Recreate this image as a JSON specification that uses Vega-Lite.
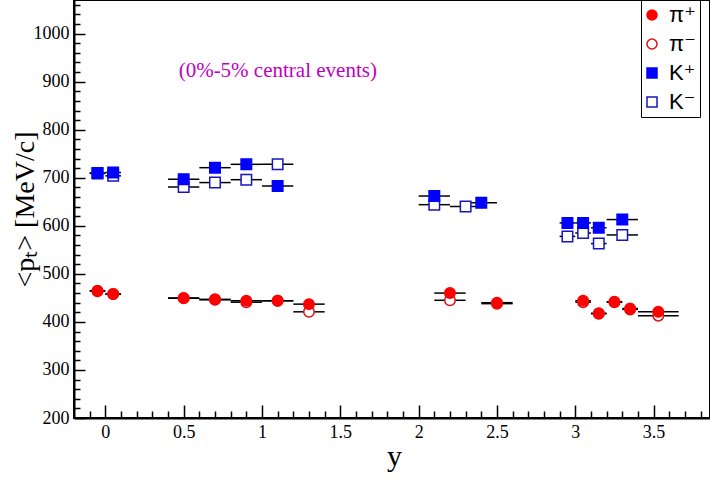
{
  "$schema": "https://vega.github.io/schema/vega-lite/v6.json",
  "width": 636,
  "height": 418,
  "autosize": {"type": "none"},
  "padding": {"left": 74, "top": 0, "right": 0, "bottom": 61},
  "background": "white",
  "datasets": {
    "pts": [
      {"s": "π⁻", "x": -0.05, "xlo": -0.1, "xhi": 0.0, "v": 465},
      {"s": "π⁻", "x": 0.05, "xlo": 0.0, "xhi": 0.1, "v": 458},
      {"s": "π⁻", "x": 0.5, "xlo": 0.4, "xhi": 0.6, "v": 449},
      {"s": "π⁻", "x": 0.7, "xlo": 0.6, "xhi": 0.8, "v": 446},
      {"s": "π⁻", "x": 0.9, "xlo": 0.8, "xhi": 1.0, "v": 441},
      {"s": "π⁻", "x": 1.1, "xlo": 1.0, "xhi": 1.2, "v": 444},
      {"s": "π⁻", "x": 1.3, "xlo": 1.2, "xhi": 1.4, "v": 421},
      {"s": "π⁻", "x": 2.2, "xlo": 2.1, "xhi": 2.3, "v": 445},
      {"s": "π⁻", "x": 2.5, "xlo": 2.4, "xhi": 2.6, "v": 438},
      {"s": "π⁻", "x": 3.05, "xlo": 3.0, "xhi": 3.1, "v": 441},
      {"s": "π⁻", "x": 3.15, "xlo": 3.1, "xhi": 3.2, "v": 417},
      {"s": "π⁻", "x": 3.25, "xlo": 3.2, "xhi": 3.3, "v": 441},
      {"s": "π⁻", "x": 3.35, "xlo": 3.3, "xhi": 3.4, "v": 428},
      {"s": "π⁻", "x": 3.53, "xlo": 3.4, "xhi": 3.66, "v": 413},
      {"s": "K⁻", "x": -0.05, "xlo": -0.1, "xhi": 0.0, "v": 709},
      {"s": "K⁻", "x": 0.05, "xlo": 0.0, "xhi": 0.1, "v": 704},
      {"s": "K⁻", "x": 0.5, "xlo": 0.4, "xhi": 0.6, "v": 681},
      {"s": "K⁻", "x": 0.7, "xlo": 0.6, "xhi": 0.8, "v": 690},
      {"s": "K⁻", "x": 0.9, "xlo": 0.8, "xhi": 1.0, "v": 696},
      {"s": "K⁻", "x": 1.1, "xlo": 1.0, "xhi": 1.2, "v": 728},
      {"s": "K⁻", "x": 2.1, "xlo": 2.0, "xhi": 2.2, "v": 644},
      {"s": "K⁻", "x": 2.3, "xlo": 2.2, "xhi": 2.4, "v": 640},
      {"s": "K⁻", "x": 2.95, "xlo": 2.9, "xhi": 3.0, "v": 578},
      {"s": "K⁻", "x": 3.05, "xlo": 3.0, "xhi": 3.1, "v": 585},
      {"s": "K⁻", "x": 3.15, "xlo": 3.1, "xhi": 3.2, "v": 563},
      {"s": "K⁻", "x": 3.3, "xlo": 3.2, "xhi": 3.4, "v": 581},
      {"s": "π⁺", "x": -0.05, "xlo": -0.1, "xhi": 0.0, "v": 464},
      {"s": "π⁺", "x": 0.05, "xlo": 0.0, "xhi": 0.1, "v": 458},
      {"s": "π⁺", "x": 0.5, "xlo": 0.4, "xhi": 0.6, "v": 450},
      {"s": "π⁺", "x": 0.7, "xlo": 0.6, "xhi": 0.8, "v": 447},
      {"s": "π⁺", "x": 0.9, "xlo": 0.8, "xhi": 1.0, "v": 444},
      {"s": "π⁺", "x": 1.1, "xlo": 1.0, "xhi": 1.2, "v": 444},
      {"s": "π⁺", "x": 1.3, "xlo": 1.2, "xhi": 1.4, "v": 437},
      {"s": "π⁺", "x": 2.2, "xlo": 2.1, "xhi": 2.3, "v": 460},
      {"s": "π⁺", "x": 2.5, "xlo": 2.4, "xhi": 2.6, "v": 440},
      {"s": "π⁺", "x": 3.05, "xlo": 3.0, "xhi": 3.1, "v": 444},
      {"s": "π⁺", "x": 3.15, "xlo": 3.1, "xhi": 3.2, "v": 418},
      {"s": "π⁺", "x": 3.25, "xlo": 3.2, "xhi": 3.3, "v": 442},
      {"s": "π⁺", "x": 3.35, "xlo": 3.3, "xhi": 3.4, "v": 426},
      {"s": "π⁺", "x": 3.53, "xlo": 3.4, "xhi": 3.66, "v": 421},
      {"s": "K⁺", "x": -0.05, "xlo": -0.1, "xhi": 0.0, "v": 710},
      {"s": "K⁺", "x": 0.05, "xlo": 0.0, "xhi": 0.1, "v": 711},
      {"s": "K⁺", "x": 0.5, "xlo": 0.4, "xhi": 0.6, "v": 697},
      {"s": "K⁺", "x": 0.7, "xlo": 0.6, "xhi": 0.8, "v": 721},
      {"s": "K⁺", "x": 0.9, "xlo": 0.8, "xhi": 1.0, "v": 728},
      {"s": "K⁺", "x": 1.1, "xlo": 1.0, "xhi": 1.2, "v": 683},
      {"s": "K⁺", "x": 2.1, "xlo": 2.0, "xhi": 2.2, "v": 662},
      {"s": "K⁺", "x": 2.4, "xlo": 2.3, "xhi": 2.5, "v": 648},
      {"s": "K⁺", "x": 2.95, "xlo": 2.9, "xhi": 3.0, "v": 606},
      {"s": "K⁺", "x": 3.05, "xlo": 3.0, "xhi": 3.1, "v": 606},
      {"s": "K⁺", "x": 3.15, "xlo": 3.1, "xhi": 3.2, "v": 596},
      {"s": "K⁺", "x": 3.3, "xlo": 3.2, "xhi": 3.4, "v": 613}
    ],
    "note": [{"x": 0.468, "v": 922, "t": "(0%-5% central events)"}]
  },
  "layer": [
    {
      "data": {"name": "pts"},
      "mark": {"type": "rule", "color": "black", "strokeWidth": 1.5},
      "encoding": {
        "x": {
          "field": "xlo", "type": "quantitative",
          "scale": {"domain": [-0.2, 3.86], "nice": false, "zero": false},
          "axis": {
            "orient": "bottom", "values": [0, 0.5, 1, 1.5, 2, 2.5, 3, 3.5], "format": "~g",
            "tickSize": -13, "tickWidth": 1.5, "tickColor": "black",
            "domainColor": "black", "domainWidth": 2, "grid": false,
            "labelFont": "Times New Roman, Liberation Serif, serif", "labelFontSize": 18, "labelColor": "black", "labelPadding": 18,
            "title": "y", "titleFont": "Times New Roman, Liberation Serif, serif", "titleFontSize": 30, "titleFontWeight": "normal",
            "titleColor": "black", "titleBaseline": "alphabetic", "titleX": 320, "titleY": 47, "titleAlign": "center"
          }
        },
        "x2": {"field": "xhi"},
        "y": {
          "field": "v", "type": "quantitative",
          "scale": {"domain": [200, 1070], "nice": false, "zero": false},
          "axis": {
            "orient": "left", "values": [200, 300, 400, 500, 600, 700, 800, 900, 1000], "format": "d",
            "tickSize": -11, "tickWidth": 1.5, "tickColor": "black",
            "domainColor": "black", "domainWidth": 2, "grid": false,
            "labelFont": "Times New Roman, Liberation Serif, serif", "labelFontSize": 18, "labelColor": "black", "labelPadding": 16,
            "title": "<pₜ> [MeV/c]", "titleFont": "Times New Roman, Liberation Serif, serif", "titleFontSize": 28, "titleFontWeight": "normal",
            "titleColor": "black", "titleBaseline": "alphabetic", "titleAngle": -90, "titleX": -41, "titleY": 209, "titleAlign": "center"
          }
        }
      }
    },
    {
      "data": {"name": "pts"},
      "mark": {"type": "point", "opacity": 1, "strokeWidth": 1.5, "size": 110},
      "encoding": {
        "x": {
          "field": "x", "type": "quantitative",
          "axis": {
            "orient": "bottom",
            "values": [-0.1, 0.1, 0.2, 0.3, 0.4, 0.6, 0.7, 0.8, 0.9, 1.1, 1.2, 1.3, 1.4, 1.6, 1.7, 1.8, 1.9, 2.1, 2.2, 2.3, 2.4, 2.6, 2.7, 2.8, 2.9, 3.1, 3.2, 3.3, 3.4, 3.6, 3.7, 3.8],
            "tickSize": -7, "tickWidth": 1.5, "tickColor": "black", "labels": false, "domain": false, "grid": false, "title": null
          }
        },
        "y": {
          "field": "v", "type": "quantitative",
          "axis": {
            "orient": "left",
            "values": [220, 240, 260, 280, 320, 340, 360, 380, 420, 440, 460, 480, 520, 540, 560, 580, 620, 640, 660, 680, 720, 740, 760, 780, 820, 840, 860, 880, 920, 940, 960, 980, 1020, 1040, 1060],
            "tickSize": -6, "tickWidth": 1.5, "tickColor": "black", "labels": false, "domain": false, "grid": false, "title": null
          }
        },
        "fill": {
          "field": "s", "type": "nominal",
          "scale": {"domain": ["π⁺", "π⁻", "K⁺", "K⁻"], "range": ["#ff0000", "#ffffff", "#0000ff", "#ffffff"]},
          "legend": {"title": null}
        },
        "stroke": {
          "field": "s", "type": "nominal",
          "scale": {"domain": ["π⁺", "π⁻", "K⁺", "K⁻"], "range": ["#ff0000", "#dd1111", "#0000ff", "#1515c0"]},
          "legend": {"title": null}
        },
        "shape": {
          "field": "s", "type": "nominal",
          "scale": {"domain": ["π⁺", "π⁻", "K⁺", "K⁻"], "range": ["circle", "circle", "square", "square"]},
          "legend": {"title": null}
        }
      }
    },
    {
      "data": {"name": "note"},
      "mark": {"type": "text", "font": "Times New Roman, Liberation Serif, serif", "fontSize": 21, "color": "#c000c0", "align": "left", "baseline": "middle"},
      "encoding": {
        "x": {"field": "x", "type": "quantitative", "axis": null},
        "y": {"field": "v", "type": "quantitative", "axis": null},
        "text": {"field": "t"}
      }
    }
  ],
  "resolve": {"axis": {"x": "independent", "y": "independent"}},
  "config": {
    "font": "Times New Roman, Liberation Serif, serif",
    "view": {"stroke": "black", "strokeWidth": 2},
    "legend": {
      "orient": "none", "legendX": 567, "legendY": 0,
      "strokeColor": "black", "fillColor": "white", "padding": 4,
      "labelFont": "Arial, Liberation Sans, DejaVu Sans, sans-serif", "labelFontSize": 22, "labelColor": "black", "labelOffset": 6,
      "symbolOffset": -4,
      "rowPadding": 7, "symbolSize": 100, "symbolStrokeWidth": 1.5, "labelExpr": "datum.label + '\u2800\u2800\u2800'"
    }
  }
}
